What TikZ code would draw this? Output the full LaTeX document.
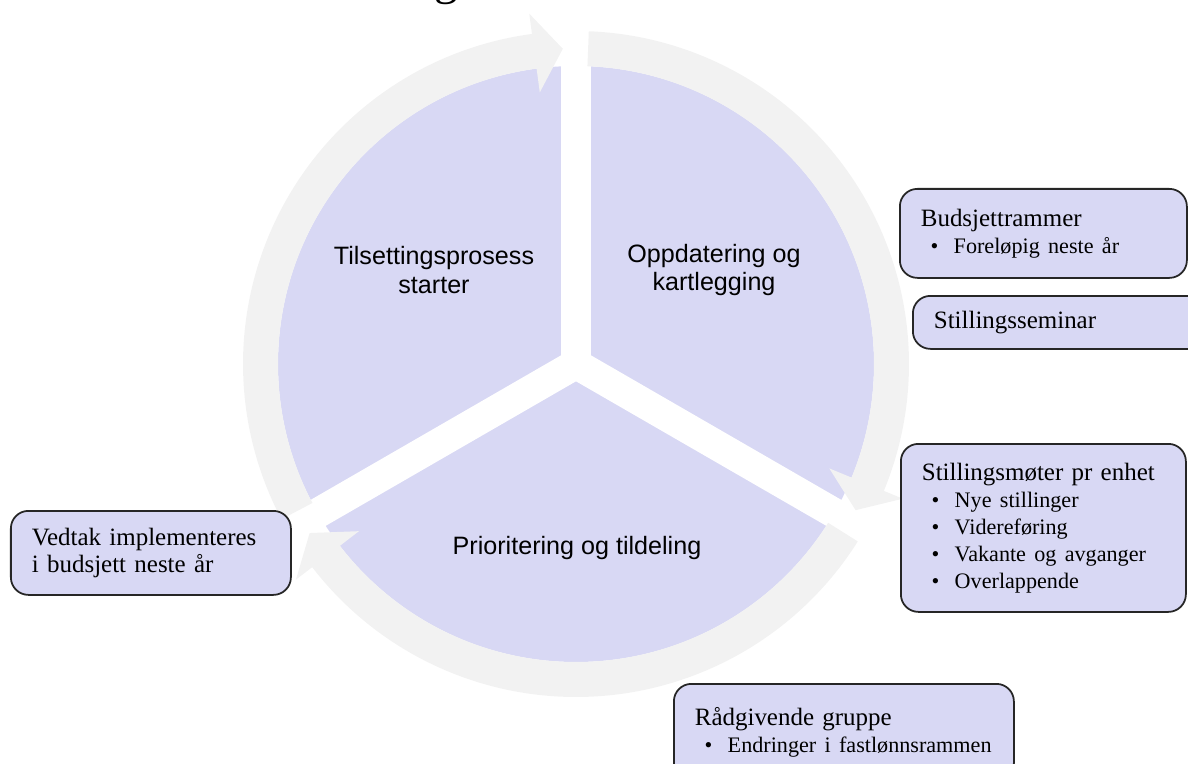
\documentclass[tikz,border=0pt]{standalone}
\usepackage{fontspec}
\setmainfont{Liberation Serif}
\setsansfont{Liberation Sans}
\definecolor{pie}{HTML}{D8D8F4}
\definecolor{ring}{HTML}{F2F2F2}
\newcommand{\punkt}[1]{{\fontsize{12.6}{15.4}\selectfont\hspace*{5.5pt}\makebox[13.2pt][l]{\textbullet}#1}}
\begin{document}
\begin{tikzpicture}[font=\sffamily,
  sector/.style={font=\sffamily\fontsize{14.3}{16}\selectfont, align=center},
  box/.style={draw=black!85, line width=1pt, fill=pie, rounded corners=0.35cm,
    anchor=north west, align=left, inner xsep=0.42cm, inner ysep=0pt,
    font=\rmfamily\fontsize{14.2}{15.4}\selectfont}]
  \useasboundingbox (0,0) rectangle (23.76,15.26);
  \clip (0,0) rectangle (23.76,15.26);
  % cut title
  \node[font=\rmfamily\fontsize{27}{30}\selectfont, anchor=base, inner sep=0] (title) at (8.92,15.36) {g};

  % pie and ring
  \begin{scope}[shift={(11.52,7.98)}]
    \fill[pie] (0,0) circle (5.96);
    \foreach \a in {90,210,330}
      \draw[white, line width=0.6cm] (0,0) -- (\a:6.0);
    \foreach \t [evaluate=\t as \s using \t+115.4, evaluate=\t as \b using \t+5.2] in {92.4,-27.6,212.4}
      \fill[ring] (\s:6.66) arc[start angle=\s, end angle=\b, radius=6.66]
        -- (\b:7.07) -- (\t:6.31) -- (\b:5.48) -- (\b:5.96)
        arc[start angle=\b, end angle=\s, radius=5.96] -- cycle;
  \end{scope}
  \node[sector] (start) at (8.68,9.86) {Tilsettingsprosess\\starter};
  \node[sector] (update) at (14.28,9.86) {Oppdatering og\\kartlegging};
  \node[sector] (priority) at (11.54,4.30) {Prioritering og tildeling};

  % boxes
  \node[box, text width=4.90cm, minimum height=1.78cm] (budget) at (17.98,11.50)
    {Budsjettrammer\\\punkt{Foreløpig neste år}};
  \node[box, text width=5.12cm, minimum height=1.06cm] (seminar) at (18.24,9.36)
    {Stillingsseminar};
  \node[box, text width=4.86cm, minimum height=3.36cm] (meetings) at (18.0,6.40)
    {Stillingsmøter pr enhet\\\punkt{Nye stillinger}\\\punkt{Videreføring}\\
     \punkt{Vakante og avganger}\\\punkt{Overlappende}};
  \node[box, text width=4.76cm, minimum height=1.68cm] (decision) at (0.2,5.06)
    {Vedtak implementeres\\i budsjett neste år};
  \node[box, text width=5.96cm, minimum height=1.94cm] (advisory) at (13.46,1.60)
    {Rådgivende gruppe\\\punkt{Endringer i fastlønnsrammen}};
\end{tikzpicture}
\end{document}
